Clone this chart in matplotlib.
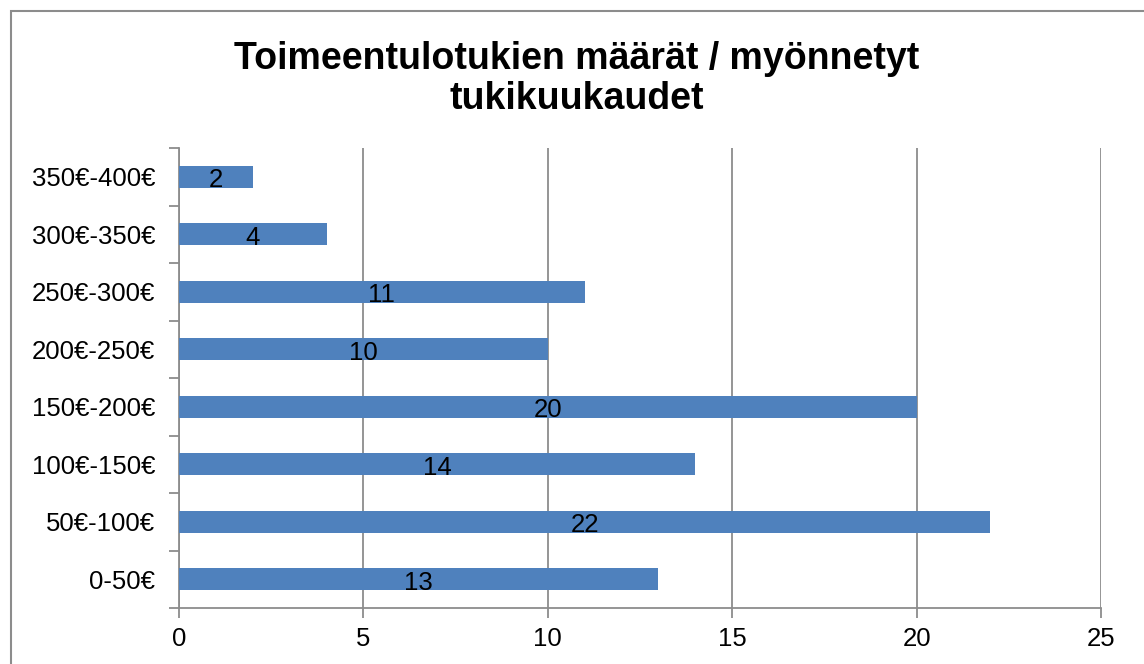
import matplotlib as mpl
from matplotlib import pyplot as plt
from matplotlib.patches import Rectangle
import numpy as np

mpl.rcParams['font.family'] = ['Liberation Sans', 'DejaVu Sans']

categories = ['0-50€', '50€-100€', '100€-150€', '150€-200€',
              '200€-250€', '250€-300€', '300€-350€', '350€-400€']
values = [13, 22, 14, 20, 10, 11, 4, 2]
xticks = [0, 5, 10, 15, 20, 25]
title = 'Toimeentulotukien määrät / myönnetyt\ntukikuukaudet'

W, H = 1144, 664
fig = plt.figure(figsize=(W/100, H/100), dpi=100)

# outer chart frame (runs off the right and bottom edge)
fig.patches.append(Rectangle((11/W, -0.1), 1.2, 1.1 - 11/H,
                             transform=fig.transFigure, fill=False,
                             edgecolor='#8c8c8c', linewidth=1.5))

ax = fig.add_axes([179/W, 56/H, (1101-179)/W, (608-148)/H])

y = np.arange(len(categories))
ax.barh(y, values, height=0.39, color='#4F81BD', zorder=3)
for yi, v in zip(y, values):
    ax.text(v/2, yi - 0.06, str(v), ha='center', va='center',
            fontsize=18.5, color='black', zorder=4)

ax.set_xlim(0, 25)
ax.set_ylim(-0.5, len(categories) - 0.5)
ax.set_xticks(xticks)
ax.set_xticklabels([str(t) for t in xticks], fontsize=18.5)
ax.set_yticks(y)
ax.set_yticklabels(categories, fontsize=18.5)
ax.tick_params(axis='y', length=0, pad=17)
ax.set_yticks(np.arange(len(categories) + 1) - 0.5, minor=True)
ax.tick_params(axis='y', which='minor', length=7, color='#8c8c8c', width=1.3)
ax.tick_params(axis='x', length=7, color='#8c8c8c', width=1.3, pad=7)

ax.grid(axis='x', color='#8c8c8c', linewidth=1.3, zorder=0)
for s in ['top', 'right']:
    ax.spines[s].set_visible(False)
for s in ['left', 'bottom']:
    ax.spines[s].set_color('#8c8c8c')
    ax.spines[s].set_linewidth(1.3)

fig.text(577/W, 1 - 79/H, title, ha='center', va='center',
         fontsize=27, fontweight='bold', linespacing=1.13)

fig.savefig('out.png', dpi=100)
